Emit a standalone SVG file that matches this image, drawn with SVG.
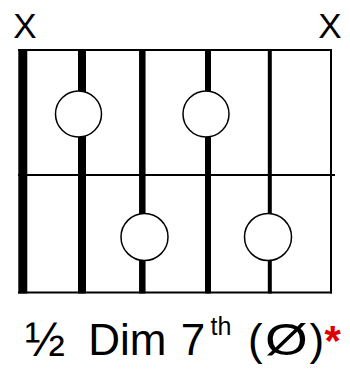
<svg xmlns="http://www.w3.org/2000/svg" width="350" height="371" viewBox="0 0 350 371">
<style>
.fret{stroke:#000;stroke-width:2;fill:none}
.str{stroke:#000}
.dot{fill:#fff;stroke:#000;stroke-width:1.5}
.lbl{font-family:"Liberation Sans",Arial,sans-serif;fill:#000}
.red{fill:#e00000;font-weight:bold}
</style>
<rect width="350" height="371" fill="#fff"/>
<g id="mutes">
<text class="lbl" x="25" y="38" font-size="35" text-anchor="middle">X</text>
<text class="lbl" x="330" y="38" font-size="35" text-anchor="middle">X</text>
</g>
<g id="frets">
<line class="fret" x1="18" y1="50" x2="332" y2="50"/>
<line class="fret" x1="18" y1="175" x2="335" y2="175"/>
<line class="fret" x1="18" y1="292.5" x2="332" y2="292.5"/>
<line class="fret" x1="331" y1="49" x2="331" y2="293.5"/>
</g>
<g id="strings">
<line class="str" x1="22.8" y1="49" x2="22.8" y2="293.5" stroke-width="9"/>
<line class="str" x1="82" y1="49" x2="82" y2="293.5" stroke-width="8"/>
<line class="str" x1="142.3" y1="49" x2="142.3" y2="293.5" stroke-width="6.5"/>
<line class="str" x1="208" y1="49" x2="208" y2="293.5" stroke-width="6"/>
<line class="str" x1="269.8" y1="49" x2="269.8" y2="293.5" stroke-width="4"/>
</g>
<g id="dot1"><circle class="dot" cx="78.5" cy="114" r="23"/></g>
<g id="dot2"><circle class="dot" cx="206" cy="114" r="23"/></g>
<g id="dot3"><circle class="dot" cx="144.5" cy="237" r="23.5"/></g>
<g id="dot4"><circle class="dot" cx="268" cy="237" r="23.5"/></g>
<g id="title">
<text class="lbl" y="356" font-size="44"><tspan x="25" font-size="48">½</tspan><tspan x="88.2" y="355">Dim</tspan><tspan x="180.7">7</tspan><tspan x="210.5" y="335" font-size="25">th</tspan><tspan x="248" y="355">(</tspan><tspan x="309.5">)</tspan></text>
<text class="lbl" font-size="44" text-anchor="middle" transform="translate(286.5,355) scale(1.25,1)">Ø</text>
<text class="lbl red" x="324.5" y="355" font-size="42">*</text>
</g>
</svg>
